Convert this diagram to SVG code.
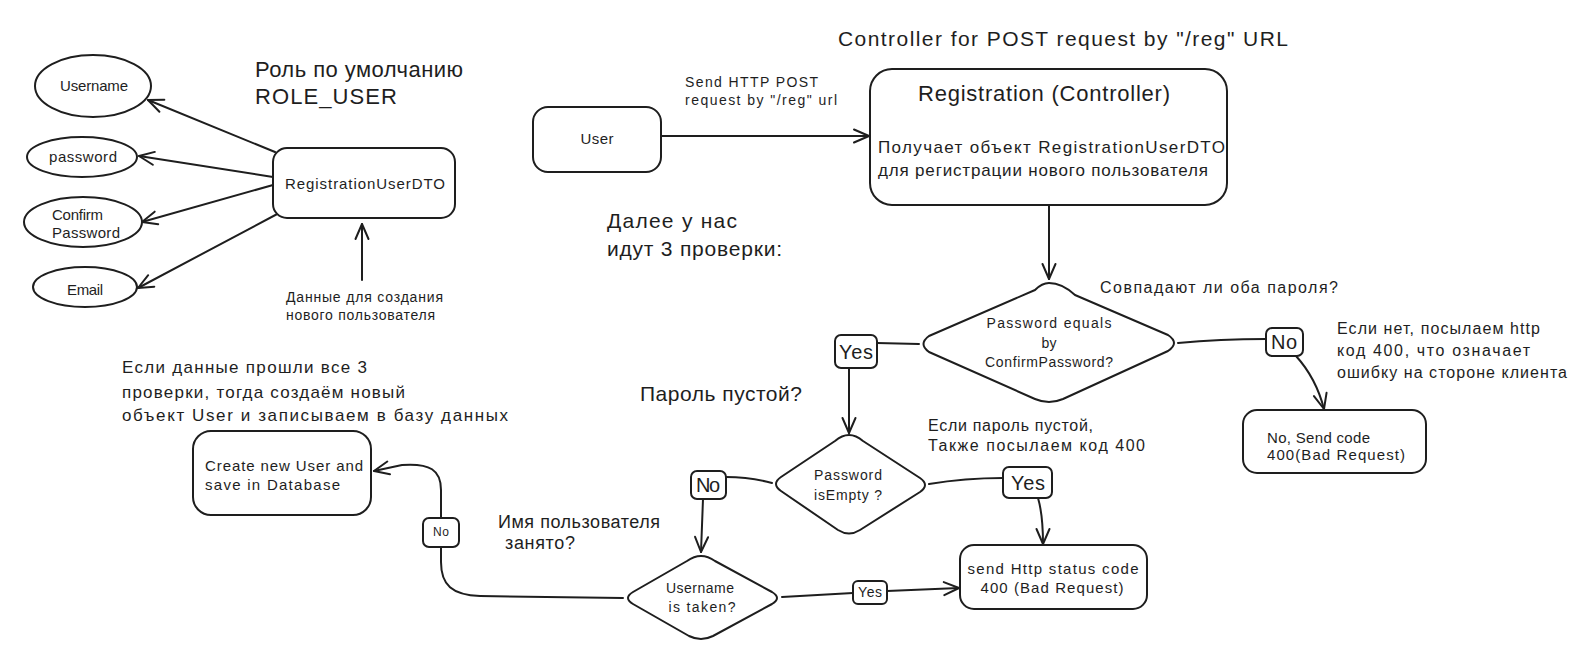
<svg xmlns="http://www.w3.org/2000/svg" width="1592" height="659" viewBox="0 0 1592 659">
<style>
.s{fill:#fff;stroke:#1e1e1e;stroke-width:2;stroke-linejoin:round}
.c{fill:none;stroke:#1e1e1e;stroke-width:2;stroke-linecap:round;stroke-linejoin:round}
text{font-family:"Liberation Sans","DejaVu Sans",sans-serif;fill:#1e1e1e;dominant-baseline:central}
.m{text-anchor:middle}
.f14{font-size:14px}.f15{font-size:15px}.f16{font-size:16px}.f17{font-size:17px}.f18{font-size:18px}.f20{font-size:20px}.f21{font-size:21px}.f22{font-size:22px}.f12{font-size:12px}
</style>
<defs>
<marker id="ah" viewBox="-17 -9 19 18" refX="0" refY="0" markerWidth="19" markerHeight="18" markerUnits="userSpaceOnUse" orient="auto">
<path d="M -15 -6.5 L 0 0 L -15 6.5" fill="none" stroke="#1e1e1e" stroke-width="2" stroke-linecap="round" stroke-linejoin="round"/>
</marker>
</defs>
<rect width="1592" height="659" fill="#fff"/>

<g id="connectors">
<path class="c" marker-end="url(#ah)" d="M 275 152 L 148 100"/>
<path class="c" marker-end="url(#ah)" d="M 273 177 L 139 156"/>
<path class="c" marker-end="url(#ah)" d="M 273 185 L 142 222"/>
<path class="c" marker-end="url(#ah)" d="M 281 212 L 138 288"/>
<path class="c" marker-end="url(#ah)" d="M 362 280 L 362 224"/>
<path class="c" marker-end="url(#ah)" d="M 661 136 L 869 136"/>
<path class="c" marker-end="url(#ah)" d="M 1049 206 L 1049 279"/>
<path class="c" d="M 919 344 L 877 343"/>
<path class="c" marker-end="url(#ah)" d="M 849 368 L 849 433"/>
<path class="c" d="M 1178 343 Q 1220 339 1266 339"/>
<path class="c" marker-end="url(#ah)" d="M 1296 356 Q 1316 378 1324 409"/>
<path class="c" d="M 772 483 Q 750 477 726 477"/>
<path class="c" marker-end="url(#ah)" d="M 703 499 L 701 552"/>
<path class="c" d="M 929 484 Q 965 478 1003 478"/>
<path class="c" marker-end="url(#ah)" d="M 1038 498 Q 1043 515 1043 544"/>
<path class="c" d="M 782 597 L 853 593"/>
<path class="c" marker-end="url(#ah)" d="M 887 591 L 959 588"/>
<path class="c" d="M 623 598 L 480 596 C 452 595 441 585 441 562 L 441 547"/>
<path class="c" marker-end="url(#ah)" d="M 441 518 L 441 490 C 441 470 430 463 402 465 L 374 471"/>
</g>

<g id="title"><text class="f21" x="838" y="38" textLength="450">Controller for POST request by "/reg" URL</text></g>
<g id="role-note"><text class="f22" x="255" y="69" textLength="208">Роль по умолчанию</text><text class="f22" x="255" y="96" textLength="142">ROLE_USER</text></g>

<g id="username"><ellipse class="s" cx="93" cy="86" rx="58" ry="31"/><text class="f15 m" x="94" y="85" textLength="68">Username</text></g>
<g id="password"><ellipse class="s" cx="82" cy="157" rx="55" ry="20"/><text class="f15 m" x="83" y="156" textLength="68">password</text></g>
<g id="confirm"><ellipse class="s" cx="83" cy="222" rx="59" ry="25"/><text class="f15" x="52" y="214" textLength="51">Confirm</text><text class="f15" x="52" y="232" textLength="68">Password</text></g>
<g id="email"><ellipse class="s" cx="85" cy="287" rx="52" ry="20"/><text class="f15 m" x="85" y="289" textLength="36">Email</text></g>
<g id="dto"><rect class="s" x="273" y="148" width="182" height="70" rx="14"/><text class="f15" x="285" y="183" textLength="160">RegistrationUserDTO</text></g>
<g id="data-note"><text class="f14" x="286" y="297" textLength="157">Данные для создания</text><text class="f14" x="286" y="315" textLength="149">нового пользователя</text></g>

<g id="send-note"><text class="f14" x="685" y="82" textLength="133">Send HTTP POST</text><text class="f14" x="685" y="100" textLength="152">request by "/reg" url</text></g>
<g id="user"><rect class="s" x="533" y="107" width="128" height="65" rx="15"/><text class="f15 m" x="597" y="138" textLength="33">User</text></g>
<g id="registration"><rect class="s" x="870" y="69" width="357" height="136" rx="22"/><text class="f22" x="918" y="93" textLength="252">Registration (Controller)</text><text class="f17" x="878" y="147" textLength="347">Получает объект RegistrationUserDTO</text><text class="f17" x="878" y="170" textLength="330">для регистрации нового пользователя</text></g>
<g id="checks-note"><text class="f21" x="607" y="220" textLength="130">Далее у нас</text><text class="f21" x="607" y="248" textLength="175">идут 3 проверки:</text></g>

<g id="match-note"><text class="f16" x="1100" y="287" textLength="238">Совпадают ли оба пароля?</text></g>
<g id="password-equals"><path class="s" d="M 1049 283 Q 1062 283 1075 295 L 1168 335 Q 1180 343 1168 351 L 1063 399 Q 1049 405 1035 399 L 929 352 Q 918 344 929 336 L 1035 290 Q 1042 283 1049 283 Z"/><text class="f14 m" x="1049" y="323" textLength="125">Password equals</text><text class="f14 m" x="1049" y="343">by</text><text class="f14 m" x="1049" y="362" textLength="128">ConfirmPassword?</text></g>
<g id="yes1"><rect class="s" x="835" y="335" width="42" height="33" rx="6"/><text class="f20 m" x="856" y="352" textLength="34">Yes</text></g>
<g id="no1"><rect class="s" x="1266" y="328" width="37" height="28" rx="6"/><text class="f20 m" x="1284" y="342" textLength="26">No</text></g>
<g id="no-note"><text class="f16" x="1337" y="328" textLength="203">Если нет, посылаем http</text><text class="f16" x="1337" y="350" textLength="193">код 400, что означает</text><text class="f16" x="1337" y="372" textLength="230">ошибку на стороне клиента</text></g>
<g id="send-code"><rect class="s" x="1243" y="410" width="183" height="63" rx="14"/><text class="f15" x="1267" y="437" textLength="103">No, Send code</text><text class="f15" x="1267" y="454" textLength="138">400(Bad Request)</text></g>

<g id="empty-note"><text class="f21" x="640" y="393" textLength="162">Пароль пустой?</text></g>
<g id="empty-note2"><text class="f16" x="928" y="425" textLength="165">Если пароль пустой,</text><text class="f16" x="928" y="445" textLength="217">Также посылаем код 400</text></g>
<g id="password-empty"><path class="s" d="M 849 435 Q 856 435 863 441 L 920 478 Q 930 485 920 492 L 860 530 Q 849 537 838 530 L 781 491 Q 771 484 781 477 L 835 441 Q 842 435 849 435 Z"/><text class="f14 m" x="848" y="475" textLength="68">Password</text><text class="f14 m" x="848" y="495" textLength="68">isEmpty ?</text></g>
<g id="no2"><rect class="s" x="691" y="471" width="35" height="28" rx="6"/><text class="f20 m" x="708" y="485" textLength="24">No</text></g>
<g id="yes2"><rect class="s" x="1003" y="467" width="49" height="31" rx="6"/><text class="f20 m" x="1028" y="483" textLength="34">Yes</text></g>
<g id="bad-request"><rect class="s" x="960" y="545" width="187" height="64" rx="14"/><text class="f15 m" x="1053" y="568" textLength="171">send Http status code</text><text class="f15 m" x="1052" y="587" textLength="143">400 (Bad Request)</text></g>

<g id="username-taken"><path class="s" d="M 701 556 Q 708 556 715 561 L 772 592 Q 782 598 772 604 L 713 636 Q 701 642 689 636 L 633 604 Q 623 598 633 592 L 687 561 Q 694 556 701 556 Z"/><text class="f14 m" x="700" y="588" textLength="68">Username</text><text class="f14 m" x="702" y="607" textLength="67">is taken?</text></g>
<g id="yes3"><rect class="s" x="853" y="581" width="34" height="23" rx="5"/><text class="f14 m" x="870" y="592" textLength="24">Yes</text></g>
<g id="taken-note"><text class="f18" x="498" y="522" textLength="162">Имя пользователя</text><text class="f18" x="505" y="543" textLength="70">занято?</text></g>
<g id="no3"><rect class="s" x="423" y="518" width="36" height="29" rx="6"/><text class="f12 m" x="441" y="532" textLength="16">No</text></g>
<g id="create-note"><text class="f17" x="122" y="367" textLength="245">Если данные прошли все 3</text><text class="f17" x="122" y="392" textLength="283">проверки, тогда создаём новый</text><text class="f17" x="122" y="415" textLength="386">объект User и записываем в базу данных</text></g>
<g id="create-user"><rect class="s" x="193" y="431" width="178" height="84" rx="18"/><text class="f15" x="205" y="465" textLength="158">Create new User and</text><text class="f15" x="205" y="484" textLength="135">save in Database</text></g>
</svg>
